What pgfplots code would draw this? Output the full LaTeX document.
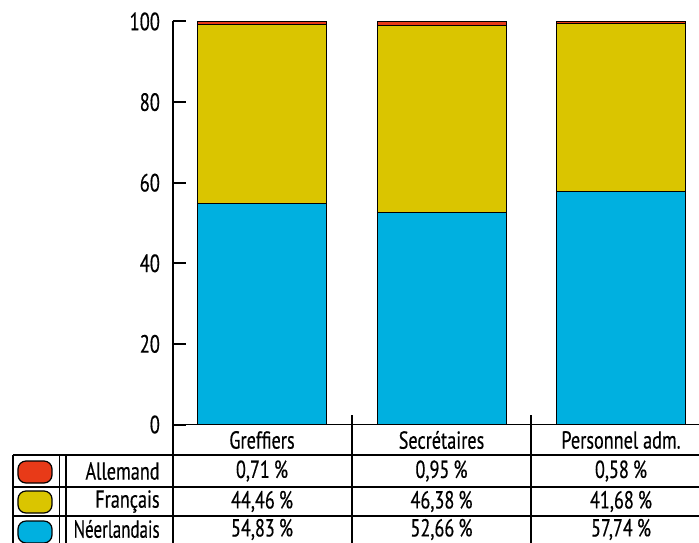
\documentclass[border=0pt]{standalone}
\usepackage{fontspec}
\setmainfont{PT Sans}[FakeStretch=0.74, FakeBold=0.4]
\usepackage{pgfplots}
\pgfplotsset{compat=1.18}
\definecolor{ned}{HTML}{00B0E0}
\definecolor{fra}{HTML}{DAC500}
\definecolor{all}{HTML}{E83A18}
\begin{document}
\begin{tikzpicture}
\fontsize{12.3}{14}\selectfont
\begin{axis}[
  scale only axis, width=269.25pt, height=201.5pt,
  xmin=-0.5, xmax=2.5, ymin=0, ymax=100,
  ybar stacked, bar width=64.5pt,
  axis x line=none, axis y line=left,
  y axis line style={-, line width=1pt},
  xtick=\empty, ytick={0,20,40,60,80,100},
  tick align=inside, major tick length=6.5pt,
  ytick style={black, line width=1pt},
  yticklabel style={font=\fontsize{12.5}{14}\selectfont, xshift=-2pt},
  /pgf/number format/assume math mode=true,
  every axis plot/.append style={draw=black, line width=0.6pt},
  clip=false,
]
\addplot[fill=ned] coordinates {(0,54.83) (1,52.66) (2,57.74)};
\addplot[fill=fra] coordinates {(0,44.46) (1,46.38) (2,41.68)};
\addplot[fill=all] coordinates {(0,0.71) (1,0.95) (2,0.58)};
\end{axis}
\begin{scope}[x=0.5pt, y=-0.5pt, shift={(-86.25pt,212.25pt)}]
  % spine continuation and grid
  \draw[line width=1pt] (172.5,424) -- (172.5,560);
  \draw[line width=0.9pt] (172.5,424.5) -- (720,424.5);
  \draw[line width=0.9pt] (352,415) -- (352,560);
  \draw[line width=0.9pt] (531,415) -- (531,560);
  \foreach \yy in {455,487,516} \draw[line width=0.9pt] (13,\yy) -- (720,\yy);
  \draw[line width=0.9pt] (13,455) -- (13,560);
  \draw[line width=0.8pt] (59.5,455) -- (59.5,560);
  \draw[line width=0.8pt] (66,455) -- (66,560);
  % keys
  \draw[fill=all, line width=0.6pt, rounded corners=4pt] (18,461) rectangle (52,483);
  \draw[fill=fra, line width=0.6pt, rounded corners=4pt] (18,491) rectangle (52,513);
  \draw[fill=ned, line width=0.6pt, rounded corners=4pt] (18,521) rectangle (52,543);
  % header
  \node at (262,440) {Greffiers};
  \node at (441.5,440) {Secrétaires};
  \node at (621,440) {Personnel adm.};
  % row labels
  \node[anchor=east, inner sep=0pt] at (160,471) {Allemand};
  \node[anchor=east, inner sep=0pt] at (160,501.5) {Français};
  \node[anchor=east, inner sep=0pt, xscale=0.93] at (160,529) {Néerlandais};
  % values
  \node at (262,471) {0,71\,\%};
  \node at (441.5,471) {0,95\,\%};
  \node at (621,471) {0,58\,\%};
  \node at (262,501.5) {44,46\,\%};
  \node at (441.5,501.5) {46,38\,\%};
  \node at (621,501.5) {41,68\,\%};
  \node[inner sep=0pt] at (262,529.5) {54,83\,\%};
  \node[inner sep=0pt] at (441.5,529.5) {52,66\,\%};
  \node[inner sep=0pt] at (621,529.5) {57,74\,\%};
  \pgfresetboundingbox
  \useasboundingbox (0,0) rectangle (699,542);
\end{scope}
\end{tikzpicture}
\end{document}
